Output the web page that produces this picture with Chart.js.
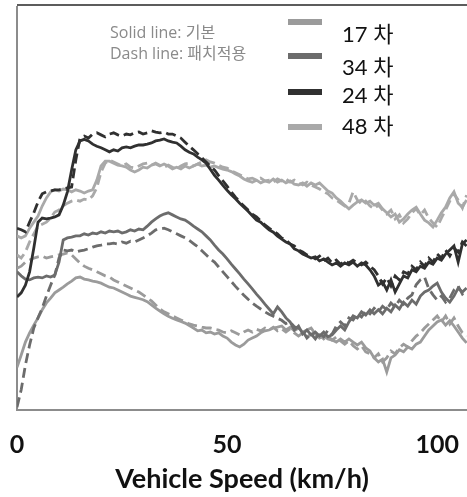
<!DOCTYPE html>
<html>
<head>
<meta charset="utf-8">
<script src="https://cdn.jsdelivr.net/npm/chart.js@4.4.1/dist/chart.umd.min.js"></script>
<style>
  html, body { margin: 0; padding: 0; background: #fff; }
  #wrap { width: 467px; height: 497px; }
</style>
</head>
<body>
<div id="wrap"><canvas id="chart" width="467" height="497"></canvas></div>
<script>
// x axis: vehicle speed, one sample per km/h
const speedKmh = Array.from({ length: 108 }, (_, i) => i);
const xTicks = [0, 50, 100];

// series names (legend) and notes
const seriesNames = ["17 차", "34 차", "24 차", "48 차"];
const noteSolid = "Solid line: 기본";
const noteDash = "Dash line: 패치적용";

// 24차 (darkest)
const basic24 = [
  28, 29, 30.9, 34.2, 40.1, 46.5, 47.5, 47.3, 47.5, 47.8,
  48.3, 50.7, 54, 59.4, 64.4, 66.6, 67, 66.6, 65.8, 65.3,
  64.9, 64.4, 63.9, 64.4, 64.1, 64.9, 65.1, 64.9, 65.3, 65.6,
  65.6, 65.8, 66.1, 66.6, 66.8, 67.1, 66.6, 66.3, 66.1, 65.3,
  64.4, 63.8, 63.4, 62.6, 61.9, 61.1, 59.6, 58.1, 56.9, 55.6,
  54.4, 53.3, 52.3, 51.2, 50.2, 49.2, 48.1, 47, 46.5, 45.5,
  44.6, 44, 43, 42.3, 41.6, 41.1, 39.9, 39.4, 38.6, 38.1,
  37.6, 37.9, 36.9, 37.4, 36.6, 35.9, 36.4, 35.6, 36.4, 35.9,
  36.6, 35.6, 36.4, 35.9, 34.7, 33.2, 30.9, 31.7, 29.7, 32.2,
  29.2, 31.2, 33.2, 32.7, 34.7, 34.2, 35.6, 35.1, 36.6, 36.1,
  37.6, 37.1, 38.6, 39.6, 40.6, 36.6, 41.1, 42.1
];
const patch24 = [
  45, 44.6, 44.1, 46.5, 48.8, 51.5, 53.5, 54, 54.2, 54.5,
  54.5, 54.7, 55, 55.2, 61.9, 67.3, 67.8, 67.3, 68.3, 68.6,
  68.1, 67.6, 68.3, 68.6, 68.1, 67.8, 68.3, 68.1, 68.6, 68.8,
  68.3, 68.6, 69.1, 68.8, 68.6, 68.8, 68.3, 68.3, 67.8, 67.3,
  66.3, 65.3, 64.4, 63.4, 62.4, 61.4, 60.4, 59.4, 58, 56.7,
  55.4, 54, 52.7, 51.5, 50.5, 49.5, 48.5, 47.8, 46.8, 45.8,
  45, 44.3, 43.6, 42.6, 42.1, 41.1, 40.6, 39.6, 39.1, 38.4,
  38.1, 37.4, 38.1, 36.9, 37.6, 36.4, 37.1, 36.1, 36.9, 36.4,
  37.1, 36.4, 35.9, 36.6, 35.6, 34.7, 33.2, 31.2, 32.7, 30.7,
  33.2, 32.2, 34.2, 33.7, 35.6, 34.7, 36.6, 35.6, 37.6, 36.6,
  38.6, 37.6, 39.6, 38.1, 40.1, 39.1, 41.6, 40.6
];

// 34차 (mid grey)
const basic34 = [
  34.2, 33.2, 32.4, 32.2, 32.7, 32.9, 32.7, 33.2, 32.9, 33.4,
  36.6, 42.1, 42.6, 42.8, 43.1, 43.1, 43.6, 43.3, 43.8, 43.6,
  44.1, 43.8, 44.3, 44.1, 44.3, 43.8, 44.1, 44.6, 44.3, 44.8,
  44.6, 45.5, 46.5, 47.3, 48, 48.5, 48.8, 48.3, 47.8, 47.3,
  47, 46.3, 45.5, 44.8, 44.1, 43.1, 42.1, 40.8, 39.6, 38.6,
  37.4, 36.1, 34.9, 33.7, 32.4, 31.2, 30, 28.7, 27.5, 26.2,
  25, 23.8, 25.5, 24.3, 22.8, 21.8, 19.8, 20.8, 18.8, 19.8,
  18.6, 19.3, 18.3, 19.3, 18.1, 18.6, 19.8, 20.8, 19.8, 21.8,
  23.3, 22.8, 24.3, 23.5, 24.8, 23.8, 24.8, 23.8, 25.2, 24.3,
  26, 25, 26.7, 25.7, 27.2, 26.2, 28.2, 29.2, 29.7, 30.7,
  31.4, 29.2, 27.7, 26.7, 28.2, 30.2, 29.2, 30.2
];
const patch34 = [
  0.7, 5, 11.1, 16.1, 20.3, 22.8, 25.2, 28.2, 30.9, 33.4,
  37.6, 39.6, 39.4, 39.6, 39.1, 39.4, 39.6, 39.9, 40.3, 40.6,
  40.8, 41.1, 41.1, 41.3, 41.1, 41.6, 41.3, 41.8, 41.6, 42.1,
  42.6, 43.1, 43.8, 44.6, 44.8, 45, 44.6, 44.1, 43.6, 43.1,
  42.6, 42, 41.2, 40.4, 39.4, 38.4, 37.4, 36.6, 35.4, 34.2,
  33, 31.8, 30.6, 29.5, 28.4, 27.4, 26.5, 25.7, 25, 24.3,
  23.7, 23.2, 22.7, 22.2, 21.4, 21.8, 20.6, 20.3, 19.6, 17.8,
  18.8, 17.6, 19.1, 18.1, 19.8, 18.8, 20.8, 21.8, 20.8, 22.8,
  22.3, 23.8, 23, 24.5, 23.8, 25.2, 24.3, 25.7, 24.8, 26.5,
  25.5, 27.2, 26.2, 27.7, 28.5, 31, 32.2, 32.9, 30, 28.5,
  27.2, 28.2, 26.7, 27.7, 29.7, 30.7, 28.7, 29.7
];

// 17차 (grey, lower)
const basic17 = [
  10.6, 13.6, 16.8, 19.1, 21, 22.8, 24.8, 26.5, 27.7, 29,
  29.7, 30.4, 31.2, 31.9, 32.7, 32.9, 32.4, 32.2, 31.9, 31.7,
  31.4, 30.9, 30.4, 30.2, 29.7, 29.2, 28.7, 28.2, 27.9, 27.6,
  27.3, 26.8, 26, 25.2, 24.5, 23.8, 23.2, 22.7, 22.3, 21.9,
  21.5, 20.9, 20.3, 19.6, 19.8, 19.1, 19.3, 18.8, 19.1, 18.3,
  17.8, 16.8, 16.1, 15.6, 16.3, 17.3, 17.8, 18.3, 19.1, 19.6,
  19.8, 20.3, 20.5, 20.8, 19.8, 20.5, 19.6, 20.3, 19.3, 19.8,
  20.3, 18.8, 17.8, 18.3, 17.6, 17.3, 16.8, 17.6, 16.8, 17.6,
  16.8, 16.1, 16.8, 15.4, 14.6, 12.9, 11.9, 12.6, 9.4, 12.9,
  13.6, 14.9, 14.4, 15.6, 15.1, 16.3, 16.8, 18.3, 19.8, 20.8,
  21.8, 22.3, 21, 22.1, 20.8, 19.3, 17.8, 16.6
];
const patch17 = [
  35.1, 35.6, 36.6, 37.1, 37.6, 37.9, 38.1, 37.6, 37.9, 38.1,
  38.4, 38.6, 38.9, 38.4, 37.4, 36.4, 35.6, 35.1, 34.7, 34.2,
  33.7, 33.2, 32.9, 32.2, 31.7, 31.2, 30.7, 30.2, 29.7, 29.2,
  28.5, 27.7, 27, 26, 25, 24.3, 23.8, 23.3, 22.8, 22.3,
  21.8, 21.3, 21, 20.8, 20.5, 20.3, 20.3, 20, 19.8, 19.3,
  19.1, 19.6, 19.1, 18.6, 19.3, 19.8, 19.3, 20, 19.6, 20.3,
  19.8, 20.5, 19.6, 20.1, 19.3, 20.1, 19.1, 18.3, 19.1, 18.1,
  18.8, 17.8, 18.6, 17.6, 18.3, 17.3, 18.1, 17.1, 16.3, 17.1,
  15.9, 15.1, 15.9, 14.4, 13.9, 12.9, 13.9, 11.9, 12.9, 14.6,
  13.9, 15.4, 16.3, 15.6, 17.1, 18.3, 19.1, 20.3, 21.3, 22.3,
  23.3, 21.8, 23.3, 21.3, 22.8, 20.8, 19.1, 18.3
];

// 48차 (light grey, upper)
const basic48 = [
  43.1, 42.6, 43.1, 45, 46.5, 48, 50.5, 52.5, 54, 54.5,
  54.2, 54.7, 54.5, 54, 54.5, 54.2, 53.7, 54.2, 54.5, 56.9,
  60.4, 61.6, 61.6, 61.1, 60.6, 60.4, 60.1, 59.4, 58.9, 59.4,
  60.1, 59.9, 60.6, 60.9, 60.4, 60.9, 60.4, 59.7, 60.1, 59.7,
  60.4, 59.9, 60.4, 60.9, 60.4, 60.6, 60.1, 60.4, 60, 59.6,
  59.4, 59, 58.4, 57.9, 57.2, 56.7, 56.4, 56.9, 56.2, 56.7,
  56.4, 57.2, 56.4, 56.9, 56.2, 56.7, 55.9, 55.7, 56.2, 55.4,
  56.2, 55.7, 56.2, 55.2, 54.2, 53.7, 52.5, 51.7, 50.7, 49.8,
  50.7, 51.5, 52, 51.2, 51.7, 50.7, 51.2, 49.8, 48.8, 47.8,
  48.5, 46.5, 47.3, 48.5, 49.5, 50.2, 48.5, 47, 46.3, 45.3,
  47, 48.8, 50.2, 52.5, 54, 51.2, 50.2, 52
];
const patch48 = [
  38.4, 37.6, 39.1, 41.6, 43.6, 45.5, 46, 46.5, 47.5, 49,
  49.5, 50.5, 51.2, 51.7, 52, 51.7, 52.2, 52, 53, 55,
  58.9, 61.1, 61.9, 61.4, 60.9, 60.4, 60.9, 60.1, 59.9, 60.4,
  60.9, 61.1, 60.6, 61.1, 60.6, 60.1, 60.6, 60.1, 59.7, 60.4,
  60.9, 61.1, 60.4, 60.9, 61.4, 61.9, 61.4, 61.1, 60.6, 60.1,
  59.9, 59.2, 58.7, 58.2, 57.7, 57.2, 57.4, 56.9, 57.4, 56.7,
  56.9, 56.4, 57.2, 56.7, 57.2, 56.4, 56.9, 56.2, 55.7, 56.4,
  55.7, 55.2, 54.7, 54, 53.5, 52.5, 52, 51.2, 50.5, 51.2,
  54, 52, 51, 51.7, 50.5, 49.8, 50.7, 49.5, 48.5, 49.5,
  47.3, 48.3, 46.3, 47.3, 48.8, 49.8, 48.3, 49.5, 47.5, 46.3,
  45.3, 47.5, 49.5, 51.7, 53.5, 52, 50, 53.2
];

const colors = { c17: "#9b9b9b", c34: "#6c6c6c", c24: "#303030", c48: "#a9a9a9" };
const legendColors = [colors.c17, colors.c34, colors.c24, colors.c48];

const latin = "Lato, 'Noto Sans CJK KR', sans-serif";
const body = "'Open Sans', 'Noto Sans CJK KR', sans-serif";

function line(data, color, dashed) {
  return {
    data,
    borderColor: color,
    borderWidth: 2.8,
    borderDash: dashed ? [10, 5] : [],
    pointRadius: 0,
    tension: 0,
    fill: false
  };
}

// axis frame (left, top and bottom lines)
const framePlugin = {
  id: "frame",
  beforeDatasetsDraw(chart) {
    const { ctx, chartArea: a } = chart;
    ctx.save();
    ctx.lineWidth = 2;
    ctx.strokeStyle = "#8c8c8c";
    ctx.beginPath();
    ctx.moveTo(a.left, a.top);
    ctx.lineTo(a.left, a.bottom);
    ctx.lineTo(a.right, a.bottom);
    ctx.stroke();
    ctx.strokeStyle = "#5c5c5c";
    ctx.beginPath();
    ctx.moveTo(a.left, a.top - 1);
    ctx.lineTo(a.right, a.top - 1);
    ctx.stroke();
    ctx.restore();
  }
};

// legend box inside the plot
const legendPlugin = {
  id: "insideLegend",
  afterDraw(chart) {
    const { ctx, chartArea: a } = chart;
    ctx.save();
    ctx.fillStyle = "#8a8a8a";
    ctx.font = "16px " + body;
    ctx.textBaseline = "alphabetic";
    ctx.fillText(noteSolid, a.left + 93, 38);
    ctx.fillText(noteDash, a.left + 93, 59);

    const swatchY = [22, 56, 92, 127];
    const textY = [35, 68, 96, 127];
    seriesNames.forEach((name, i) => {
      ctx.fillStyle = legendColors[i];
      ctx.fillRect(288, swatchY[i] - 3, 34, 6);
      ctx.fillStyle = "#111";
      ctx.font = "22px " + latin;
      ctx.textBaseline = "middle";
      ctx.fillText(name, 342, textY[i]);
    });
    ctx.restore();
  }
};

new Chart(document.getElementById("chart"), {
  type: "line",
  data: {
    labels: speedKmh,
    datasets: [
      line(basic24, colors.c24, false),
      line(patch24, colors.c24, true),
      line(basic34, colors.c34, false),
      line(patch34, colors.c34, true),
      line(basic17, colors.c17, false),
      line(patch17, colors.c17, true),
      line(basic48, colors.c48, false),
      line(patch48, colors.c48, true)
    ]
  },
  options: {
    responsive: false,
    animation: false,
    layout: { padding: { left: 17, top: 6, right: 0, bottom: 0 } },
    plugins: { legend: { display: false }, tooltip: { enabled: false } },
    scales: {
      x: {
        type: "linear",
        min: 0,
        max: 107.1,
        grid: { display: false, drawTicks: false },
        border: { display: false },
        afterBuildTicks(axis) {
          axis.ticks = xTicks.map((v) => ({ value: v }));
        },
        ticks: {
          color: "#111",
          padding: 0,
          maxRotation: 0,
          font: { family: latin, size: 25, weight: "bold", lineHeight: 2.76 }
        },
        title: {
          display: true,
          text: "Vehicle Speed (km/h)",
          color: "#111",
          padding: { top: -13, bottom: 4 },
          font: { family: latin, size: 27, weight: "bold", lineHeight: 1 }
        }
      },
      y: {
        display: false,
        min: 0,
        max: 100
      }
    }
  },
  plugins: [framePlugin, legendPlugin]
});
</script>
</body>
</html>
